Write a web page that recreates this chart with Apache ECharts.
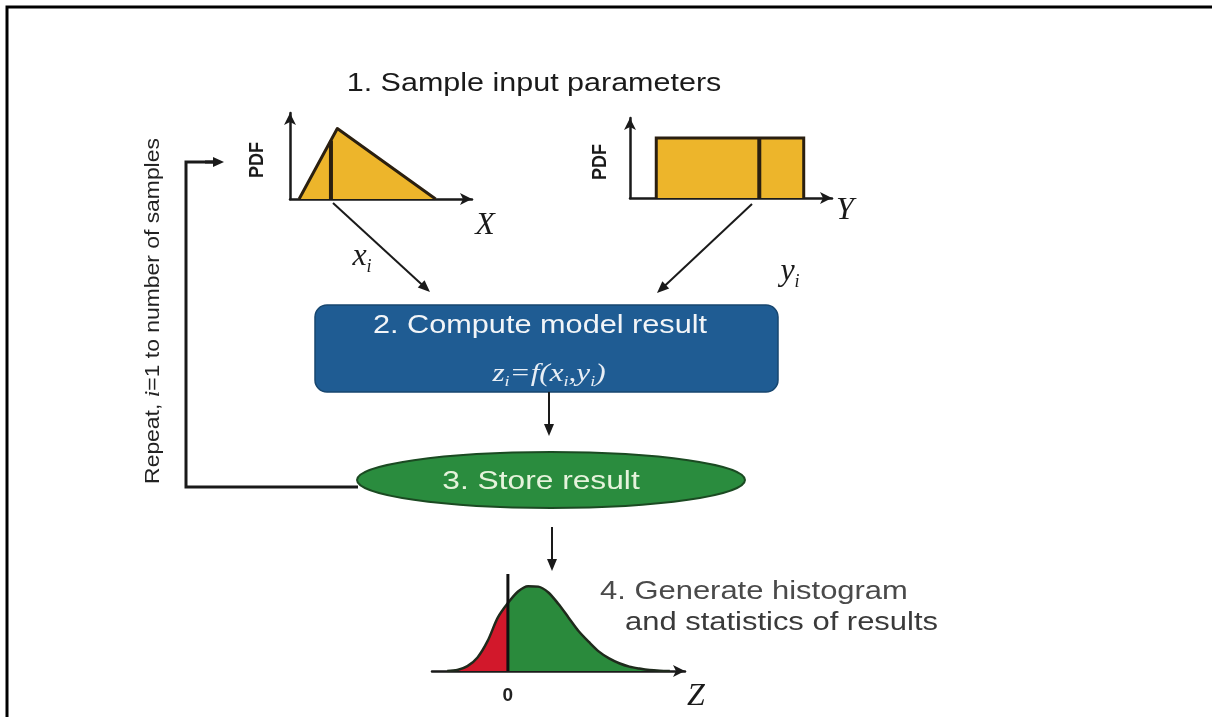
<!DOCTYPE html>
<html><head><meta charset="utf-8">
<script src="https://cdn.jsdelivr.net/npm/echarts@6/dist/echarts.min.js"></script>
<style>html,body{margin:0;padding:0;background:#fff}#c{width:1212px;height:717px}</style>
</head><body><div id="c"></div>
<script>
// ---- data ----
const triangleX = [0.5, 2.6, 8.0];
const triangleY = [0, 0.82, 0];
const triangleSampleX = 2.25;
const triangleSampleY = 0.68;
const uniformX = [1.3, 1.3, 8.6, 8.6];
const uniformY = [0, 0.75, 0.75, 0];
const uniformSampleX = 6.4;
const uniformSampleY = 0.75;
const bellZ = [-2.4, -2.0, -1.6, -1.2, -0.8, -0.4, 0, 0.4, 0.8, 1.2, 1.6, 2.0, 2.4, 2.8, 3.2, 3.6, 4.0, 4.4, 4.8, 5.2, 5.6, 6.0, 6.4];
const bellP = [0, 0.01, 0.05, 0.14, 0.31, 0.55, 0.70, 0.82, 0.875, 0.87, 0.81, 0.69, 0.55, 0.41, 0.30, 0.20, 0.13, 0.08, 0.045, 0.025, 0.01, 0.003, 0];
const bellSplitZ = 0;
const zTickLabels = {0: '0'};
const stepTexts = ['1. Sample input parameters', '2. Compute model result', '3. Store result', '4. Generate histogram', 'and statistics of results'];
const loopText = ['Repeat, ', 'i', '=1 to number of samples'];
const axisNames = ['PDF', 'X', 'Y', 'Z'];

const pairs = (xs, ys) => xs.map((x, i) => [x, ys[i]]);
const SANS = '"Liberation Sans", Arial, sans-serif';
const SERIF = '"Liberation Serif", "Times New Roman", serif';
const INK = '#1a1a1a';
const RED = '#D2182B', GREEN = '#2A8A3C';

function axis(gridIndex, min, max, show, extra) {
  return Object.assign({
    type: 'value', gridIndex, min, max,
    splitLine: {show: false}, axisTick: {show: false}, axisLabel: {show: false},
    axisLine: {show: show, onZero: true, symbol: ['none', 'arrow'], symbolSize: [9, 12],
      lineStyle: {color: INK, width: 2.5}}
  }, extra || {});
}

function arrow(x1, y1, x2, y2, lw, head, hw) {
  head = head || 12; hw = hw || 5;
  const a = Math.atan2(y2 - y1, x2 - x1);
  const c = Math.cos(a), s = Math.sin(a);
  const bx = x2 - head * c, by = y2 - head * s;
  return [
    {type: 'line', z: 50, shape: {x1, y1, x2: bx + c * 2, y2: by + s * 2}, style: {stroke: INK, lineWidth: lw}},
    {type: 'polygon', z: 50, shape: {points: [[x2, y2], [bx - s * hw, by + c * hw], [bx + s * hw, by - c * hw]]}, style: {fill: INK}}
  ];
}

function txt(x, y, text, o) {
  o = o || {};
  return {
    type: 'text', z: 60, x, y, rotation: o.rotation || 0, scaleX: o.scaleX || 1, scaleY: o.scaleY || 1,
    style: {
      text, rich: o.rich,
      fill: o.fill || INK,
      fontSize: o.fontSize || 24, fontFamily: o.fontFamily || SANS,
      fontWeight: o.fontWeight || 'normal', fontStyle: o.fontStyle || 'normal',
      align: o.align || 'center', verticalAlign: 'middle',
      textAlign: o.align || 'center', textVerticalAlign: 'middle'
    }
  };
}

function mathRich(size, subSize, fill) {
  return {
    m: {fontFamily: SERIF, fontStyle: 'italic', fontSize: size, lineHeight: size + 6, fill: fill, verticalAlign: 'middle'},
    s: {fontFamily: SERIF, fontStyle: 'italic', fontSize: subSize, lineHeight: subSize, fill: fill, verticalAlign: 'bottom'}
  };
}

const graphic = [
  {type: 'polyline', z: 1, shape: {points: [[7, 717], [7, 7], [1212, 7]]}, style: {stroke: '#000', lineWidth: 3, fill: null}},
  {type: 'rect', z: 5, shape: {x: 315, y: 305, width: 463, height: 87, r: 12}, style: {fill: '#1F5C93', stroke: '#17466f', lineWidth: 1.5}},
  {type: 'ellipse', z: 5, shape: {cx: 551, cy: 480, rx: 194, ry: 28}, style: {fill: '#2A8C3E', stroke: '#1b4a22', lineWidth: 2}},
  {type: 'polyline', z: 4, shape: {points: [[358, 487], [186, 487], [186, 162], [214, 162]]}, style: {stroke: INK, lineWidth: 3, fill: null}},
  ...arrow(205, 162, 224, 162, 3, 11, 5),
  ...arrow(333, 203, 430, 292, 2),
  ...arrow(752, 204, 657, 293, 2),
  ...arrow(549, 392, 549, 436, 2),
  ...arrow(552, 527, 552, 571, 2),
  txt(534, 84, stepTexts[0], {fontSize: 25, scaleX: 1.22}),
  txt(540, 326, stepTexts[1], {fontSize: 26, scaleX: 1.18, fill: '#f2f5f8'}),
  txt(549, 374, '{m|z}{s|i}{m|=f(x}{s|i}{m|,y}{s|i}{m|)}', {rich: mathRich(26, 15, '#e8eef5'), fill: '#e8eef5', scaleX: 1.2}),
  txt(541, 482, stepTexts[2], {fontSize: 26, scaleX: 1.22, fill: '#e6f3dc'}),
  txt(600, 592, stepTexts[3], {fontSize: 26, scaleX: 1.19, align: 'left', fill: '#4a4a4a'}),
  txt(625, 623, stepTexts[4], {fontSize: 26, scaleX: 1.19, align: 'left', fill: '#3a3a3a'}),
  txt(153, 311, '{a|' + loopText[0] + '}{b|' + loopText[1] + '}{a|' + loopText[2] + '}', {
    rotation: Math.PI / 2, scaleX: 1.09,
    rich: {a: {fontFamily: SANS, fontSize: 21, fill: '#222'}, b: {fontFamily: SERIF, fontStyle: 'italic', fontSize: 22, fill: '#222'}}
  }),
  txt(258, 160, axisNames[0], {rotation: Math.PI / 2, fontSize: 18, fontWeight: 'bold', scaleY: 1.1}),
  txt(601, 162, axisNames[0], {rotation: Math.PI / 2, fontSize: 18, fontWeight: 'bold', scaleY: 1.1}),
  txt(485, 226, axisNames[1], {fontSize: 32, fontFamily: SERIF, fontStyle: 'italic'}),
  txt(845, 211, axisNames[2], {fontSize: 32, fontFamily: SERIF, fontStyle: 'italic'}),
  txt(696, 697, axisNames[3], {fontSize: 32, fontFamily: SERIF, fontStyle: 'italic'}),
  txt(362, 257, '{m|x}{s|i}', {rich: mathRich(32, 18, INK)}),
  txt(790, 272, '{m|y}{s|i}', {rich: mathRich(32, 18, INK)})
];

// share of the bell's extent that lies left of zero, used for the hard colour stop
const zMin = Math.min(...bellZ), zMax = Math.max(...bellZ);
const f = (bellSplitZ - zMin) / (zMax - zMin);

const chart = echarts.init(document.getElementById('c'), null, {renderer: 'canvas'});
chart.setOption({
  animation: false,
  backgroundColor: '#fff',
  grid: [
    {left: 290, top: 113, width: 182, height: 86},
    {left: 630, top: 118, width: 202, height: 80},
    {left: 432, top: 574, width: 253, height: 97}
  ],
  xAxis: [
    axis(0, 0, 10, true),
    axis(1, 0, 10, true),
    axis(2, -3, 7, true, {interval: 1, axisLabel: {show: true, margin: 15, color: '#222', fontSize: 19, fontWeight: 'bold', fontFamily: SANS,
      formatter: v => (zTickLabels[v] !== undefined ? zTickLabels[v] : '')}})
  ],
  yAxis: [
    axis(0, 0, 1, true),
    axis(1, 0, 1, true),
    axis(2, 0, 1, false)
  ],
  series: [
    {type: 'line', xAxisIndex: 0, yAxisIndex: 0, data: pairs(triangleX, triangleY), symbol: 'none', z: 3,
      lineStyle: {color: '#2a1f10', width: 3, join: 'round'}, areaStyle: {color: '#EDB52B', opacity: 1}},
    {type: 'line', xAxisIndex: 0, yAxisIndex: 0, data: [[triangleSampleX, 0], [triangleSampleX, triangleSampleY]], symbol: 'none', z: 4,
      lineStyle: {color: '#2a1f10', width: 4}},
    {type: 'line', xAxisIndex: 1, yAxisIndex: 1, data: pairs(uniformX, uniformY), symbol: 'none', z: 3,
      lineStyle: {color: '#2a1f10', width: 3, join: 'miter'}, areaStyle: {color: '#EDB52B', opacity: 1}},
    {type: 'line', xAxisIndex: 1, yAxisIndex: 1, data: [[uniformSampleX, 0], [uniformSampleX, uniformSampleY]], symbol: 'none', z: 4,
      lineStyle: {color: '#2a1f10', width: 4}},
    {type: 'line', xAxisIndex: 2, yAxisIndex: 2, data: pairs(bellZ, bellP), symbol: 'none', smooth: 0.3, z: 3,
      lineStyle: {color: '#1f2a1c', width: 2.5},
      areaStyle: {opacity: 1, color: new echarts.graphic.LinearGradient(0, 0, 1, 0, [
        {offset: 0, color: RED}, {offset: f, color: RED}, {offset: f, color: GREEN}, {offset: 1, color: GREEN}])}},
    {type: 'line', xAxisIndex: 2, yAxisIndex: 2, data: [[bellSplitZ, 0], [bellSplitZ, 1]], symbol: 'none', z: 4,
      lineStyle: {color: '#111', width: 3}}
  ],
  graphic: graphic
});
</script></body></html>
